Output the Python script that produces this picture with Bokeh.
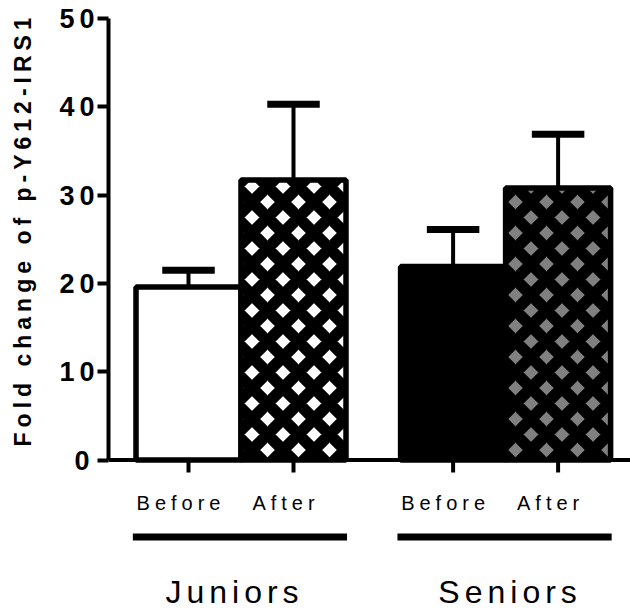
import math
from bokeh.plotting import figure
from bokeh.layouts import row
from bokeh.models import Range1d, FixedTicker, Span, ColumnDataSource
from bokeh.core.properties import value
from bokeh.embed import file_html
from bokeh.resources import INLINE

# ---- data ----
groups = ["Juniors", "Seniors"]
conditions = ["Before", "After"]
bar_group = [0, 0, 1, 1]
bar_cond = [0, 1, 0, 1]
means = [19.6, 31.7, 21.9, 30.8]
errors = [1.9, 8.6, 4.2, 6.1]
y_ticks = [0, 10, 20, 30, 40, 50]
y_title = "Fold change of p-Y612-IRS1"

# ---- styles / layout ----
fill_colors = ["white", "white", "black", "#808080"]
hatches = [" ", "x", " ", "x"]
FONT = "Liberation Sans"
GROUP_STEP = 2.52
group_label_offsets = [-24, -13]
COND_SIZE, GROUP_SIZE, TITLE_SIZE = 20, 32, 23
SPACING = {"letter-spacing": "5px"}

W, H = 630, 609
TW = 50                              # width of the title strip
LEFT, TOP = 108 - TW, 18
ZERO_PX = 459.5                      # canvas y of value 0
px_per_y = (ZERO_PX - TOP) / 50.0
px_per_x = 105.0
x0 = 1 - 80 / px_per_x
x_range = Range1d(x0, x0 + (W - TW - LEFT) / px_per_x)
y_range = Range1d(-(H - ZERO_PX) / px_per_y, 50)

def dy(px):
    return px / px_per_y

xs = [g * GROUP_STEP + c + 1 for g, c in zip(bar_group, bar_cond)]
tops = [m + e for m, e in zip(means, errors)]
labels = [conditions[c] for c in bar_cond]

# ---- title strip ----
t = figure(width=TW, height=H, x_range=Range1d(0, TW), y_range=Range1d(0, H),
           output_backend="svg", toolbar_location=None,
           x_axis_location=None, y_axis_location=None,
           min_border=0)
t.styles = SPACING
t.outline_line_color = None
t.xgrid.visible = False
t.ygrid.visible = False
t.text(x=[33 - 0.42 * 24], y=[H - 441], text=[y_title], angle=math.pi / 2,
       text_align="left", text_baseline="alphabetic",
       text_font=value(FONT), text_font_style="bold", text_font_size=f"{TITLE_SIZE}px",
       text_color="black")

# ---- main chart ----
p = figure(width=W - TW, height=H, x_range=x_range, y_range=y_range,
           output_backend="svg", toolbar_location=None, x_axis_location=None,
           min_border_left=LEFT, min_border_right=0,
           min_border_top=TOP, min_border_bottom=0)
p.styles = SPACING
p.outline_line_color = None
p.xgrid.visible = False
p.ygrid.visible = False
p.background_fill_color = "white"
p.border_fill_color = "white"

src = ColumnDataSource(dict(
    x=xs, m=means, top=tops,
    cl=[x - 0.25 for x in xs], cr=[x + 0.25 for x in xs],
    fill=fill_colors, hatch=hatches,
    lab=labels, lab_off=[-(len(s) - 1) * 2.5 - 10 for s in labels],
))

# error bars (upper only)
p.segment(x0="x", y0="m", x1="x", y1="top", source=src, line_color="black", line_width=4)
p.segment(x0="cl", y0="top", x1="cr", y1="top", source=src, line_color="black",
          line_width=7, line_cap="butt")

# bars
p.vbar(x="x", top="m", bottom=0, width=1.0, source=src,
       fill_color="fill", line_color="black", line_width=5.5,
       hatch_pattern="hatch", hatch_color="black", hatch_scale=31, hatch_weight=11.5)

# x axis line at 0 and ticks
p.add_layout(Span(location=0, dimension="width", line_color="black", line_width=4))
p.segment(x0="x", y0=0, x1="x", y1=-dy(12.5), source=src, line_color="black",
          line_width=4, line_cap="butt")
p.text(x="x", y=-dy(511 - 0.42 * COND_SIZE - ZERO_PX), text="lab", x_offset="lab_off", source=src,
       text_align="center", text_baseline="alphabetic",
       text_font=value(FONT), text_font_size=f"{COND_SIZE}px", text_color="black")

# y axis
ya = p.yaxis[0]
ya.bounds = (0, 50)
ya.ticker = FixedTicker(ticks=y_ticks)
ya.axis_line_width = 4
ya.major_tick_line_width = 4
ya.major_tick_out = 11
ya.major_tick_in = 0
ya.minor_tick_line_color = None
ya.major_label_text_font = FONT
ya.major_label_text_font_style = "bold"
ya.major_label_text_font_size = "27px"
ya.major_label_text_color = "black"
ya.major_label_standoff = 8

# group lines and labels
gl_x0, gl_x1, gl_c = [], [], []
for g in range(len(groups)):
    gx = [x for x, bg in zip(xs, bar_group) if bg == g]
    gl_x0.append(min(gx) - 0.53)
    gl_x1.append(max(gx) + 0.51)
    gl_c.append((min(gx) + max(gx)) / 2)
gsrc = ColumnDataSource(dict(x0=gl_x0, x1=gl_x1, c=gl_c, name=groups, off=group_label_offsets))
p.segment(x0="x0", y0=-dy(536.5 - ZERO_PX), x1="x1", y1=-dy(536.5 - ZERO_PX), source=gsrc,
          line_color="black", line_width=7, line_cap="butt")
p.text(x="c", y=-dy(605 - 0.42 * GROUP_SIZE - ZERO_PX), text="name", x_offset="off", source=gsrc,
       text_align="center", text_baseline="alphabetic",
       text_font=value(FONT), text_font_size=f"{GROUP_SIZE}px", text_color="black")

layout = row(t, p, spacing=0)
open("out.html", "w").write(file_html(layout, INLINE))
